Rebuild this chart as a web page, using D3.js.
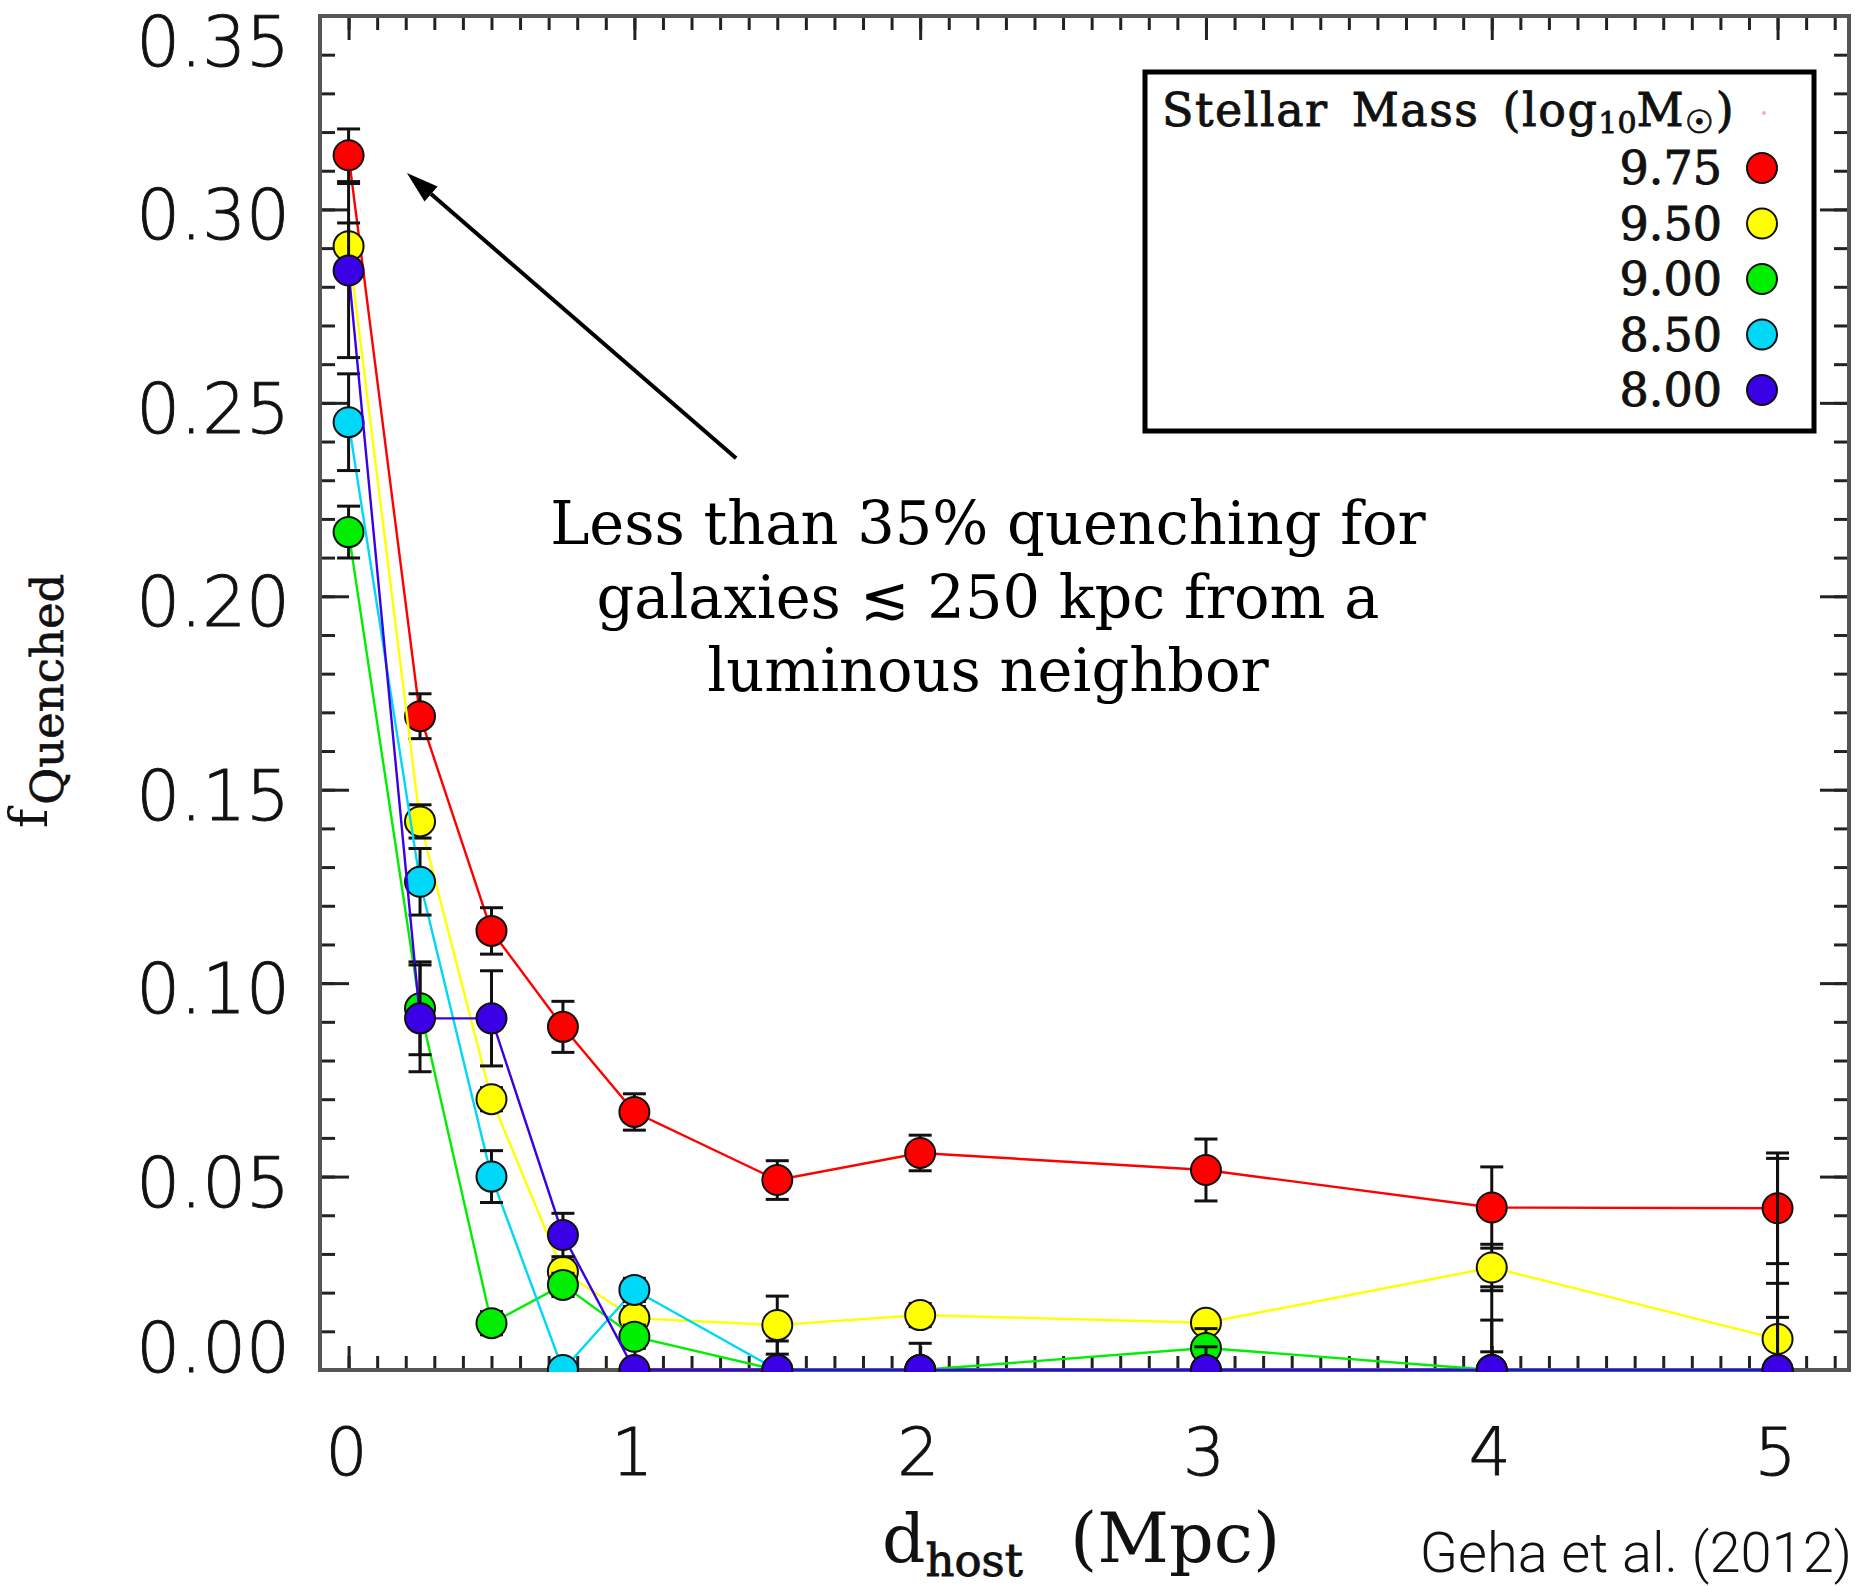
<!DOCTYPE html>
<html lang="en">
<head>
<meta charset="UTF-8">
<title>Quenched fraction vs host distance</title>
<script src="https://d3js.org/d3.v7.min.js"></script>
<style>
  body { margin: 0; background: #fff; }
  svg { display: block; }
</style>
</head>
<body>
<svg width="1855" height="1586"></svg>
<script>
// distance bins (Mpc)
const dist = [0, 0.25, 0.5, 0.75, 1, 1.5, 2, 3, 4, 5];

// quenched fraction and 1-sigma error per stellar-mass bin
const fq975 = [0.314, 0.169, 0.1135, 0.0887, 0.0667, 0.0491, 0.0561, 0.0517, 0.0420, 0.0418];
const er975 = [0.0068, 0.0058, 0.0060, 0.0066, 0.0047, 0.0050, 0.0046, 0.0080, 0.0105, 0.0143];
const fq950 = [0.2905, 0.1418, 0.0700, 0.0254, 0.0134, 0.0116, 0.0142, 0.0122, 0.0265, 0.0080];
const er950 = [0.0060, 0.0043, 0.0030, 0.0030, 0.0030, 0.0075, 0.0030, 0.0020, 0.0060, 0.0056];
const fq900 = [0.2166, 0.0935, 0.0121, 0.0220, 0.0086, 0, 0, 0.0057, 0, 0];
const er900 = [0.0067, 0.0120, 0.0030, 0.0030, 0.0030, 0, 0, 0.0050, 0.0047, 0.0224];
const fq850 = [0.2450, 0.1262, 0.0500, 0, 0.0207, 0, 0, 0, 0, 0];
const er850 = [0.0125, 0.0086, 0.0067, 0, 0.0030, 0, 0.0069, 0.0060, 0.0129, 0.0547];
const fq800 = [0.2842, 0.0909, 0.0909, 0.0349, 0, 0, 0, 0, 0, 0];
const er800 = [0.0225, 0.0138, 0.0123, 0.0056, 0, 0.0075, 0, 0, 0.0215, 0];

const massLabels = ["9.75", "9.50", "9.00", "8.50", "8.00"];
const massColors = ["#ff0000", "#ffff00", "#00ee00", "#00d8f8", "#3a00e6"];

const xTickVals = [0, 1, 2, 3, 4, 5];
const yTickVals = [0, 0.05, 0.10, 0.15, 0.20, 0.25, 0.30, 0.35];

const noteLines = ["Less than 35% quenching for", "galaxies \u2272 250 kpc from a", "luminous neighbor"];
const arrowFrom = [1.356, 0.2357];
const arrowTo = [0.204, 0.3094];

const series = [
  {vals: fq975, err: er975},
  {vals: fq950, err: er950},
  {vals: fq900, err: er900},
  {vals: fq850, err: er850},
  {vals: fq800, err: er800}
].map((s, i) => ({...s, label: massLabels[i], color: massColors[i]}));

const svg = d3.select("svg");
const L = 320, R = 1849, T = 16, B = 1370;

const x = d3.scaleLinear().domain([-0.1, 5.25]).range([L, R]);
const y = d3.scaleLinear().domain([0, 0.35]).range([B, T]);

// ticks on all four sides, pointing into the plot
const tickCol = "#222";
function ticks(axis, tf, vals, len, side) {
  const g = svg.append("g").attr("transform", tf)
    .call(axis.tickValues(vals).tickSize(len).tickFormat(""));
  g.select(".domain").remove();
  g.selectAll(".tick line").attr("stroke", tickCol).attr("stroke-width", 3)
    .each(function () {
      const el = d3.select(this);
      if (side === "top") el.attr("y2", len);
      if (side === "bottom") el.attr("y2", -len);
      if (side === "left") el.attr("x2", len);
      if (side === "right") el.attr("x2", -len);
    });
}
const xMinor = x.ticks(50);
const yMinor = y.ticks(35);
ticks(d3.axisBottom(x), `translate(0,${B})`, xMinor, 14, "bottom");
ticks(d3.axisBottom(x), `translate(0,${B})`, xTickVals, 24, "bottom");
ticks(d3.axisTop(x), `translate(0,${T})`, xMinor, 14, "top");
ticks(d3.axisTop(x), `translate(0,${T})`, xTickVals, 24, "top");
ticks(d3.axisLeft(y), `translate(${L},0)`, yMinor, 15, "left");
ticks(d3.axisLeft(y), `translate(${L},0)`, yTickVals, 29, "left");
ticks(d3.axisRight(y), `translate(${R},0)`, yMinor, 15, "right");
ticks(d3.axisRight(y), `translate(${R},0)`, yTickVals, 29, "right");

// frame
svg.append("rect")
  .attr("x", L).attr("y", T).attr("width", R - L).attr("height", B - T)
  .attr("fill", "none").attr("stroke", "#555").attr("stroke-width", 4);

// tick labels
const fmtY = d3.format(".2f");
svg.append("g").selectAll("text").data(yTickVals).join("text")
  .attr("x", 290)
  .attr("y", d => Math.max(T + 50, Math.min(B + 2, y(d) + 30)))
  .attr("text-anchor", "end")
  .attr("font-family", "DejaVu Sans").attr("font-weight", 200)
  .attr("font-size", 69).attr("fill", "#111")
  .attr("stroke", "#111").attr("stroke-width", 0.9)
  .text(fmtY);

svg.append("g").selectAll("text").data(xTickVals).join("text")
  .attr("x", d => x(d) - 2).attr("y", 1475)
  .attr("text-anchor", "middle")
  .attr("font-family", "DejaVu Sans").attr("font-weight", 200)
  .attr("font-size", 66).attr("fill", "#111")
  .attr("stroke", "#111").attr("stroke-width", 0.9)
  .text(d => d);

// axis titles
const xt = svg.append("text").attr("x", 882).attr("y", 1562)
  .attr("font-family", "DejaVu Serif").attr("fill", "#111");
xt.append("tspan").attr("font-size", 68).text("d");
xt.append("tspan").attr("font-size", 45).attr("dy", 14)
  .attr("stroke", "#111").attr("stroke-width", 0.9).text("host");
xt.append("tspan").attr("font-size", 70).attr("dy", -14).attr("x", 1070).text("(Mpc)");

const yt = svg.append("text").attr("transform", "translate(47,828) rotate(-90)")
  .attr("font-family", "DejaVu Serif").attr("fill", "#111");
yt.append("tspan").attr("font-size", 52).text("f");
yt.append("tspan").attr("font-size", 45).attr("dy", 16).attr("dx", 4)
  .attr("stroke", "#111").attr("stroke-width", 0.6).text("Quenched");

// data, clipped to the plot box
svg.append("clipPath").attr("id", "plotclip")
  .append("rect").attr("x", L).attr("y", 0).attr("width", R - L).attr("height", B + 2);
const plot = svg.append("g").attr("clip-path", "url(#plotclip)");

const line = d3.line().x(d => x(d[0])).y(d => y(d[1]));
const cap = 11.5;

series.forEach(s => {
  const g = plot.append("g");
  const pts = s.vals.map((v, i) => ({d: dist[i], v, e: s.err[i]}));
  g.append("path").datum(pts.map(p => [p.d, p.v])).attr("d", line)
    .attr("fill", "none").attr("stroke", s.color).attr("stroke-width", 2.4);

  const eb = g.append("g").attr("stroke", "#111").attr("stroke-width", 3);
  pts.filter(p => p.e > 0).forEach(p => {
    const cx = x(p.d), y0 = y(p.v - p.e), y1 = y(p.v + p.e);
    eb.append("line").attr("x1", cx).attr("x2", cx).attr("y1", y0).attr("y2", y1);
    eb.append("line").attr("x1", cx - cap).attr("x2", cx + cap).attr("y1", y0).attr("y2", y0);
    eb.append("line").attr("x1", cx - cap).attr("x2", cx + cap).attr("y1", y1).attr("y2", y1);
  });

  g.selectAll("circle").data(pts).join("circle")
    .attr("cx", p => x(p.d)).attr("cy", p => y(p.v)).attr("r", 15)
    .attr("fill", s.color).attr("stroke", "#111").attr("stroke-width", 2);
});

// legend
const lg = svg.append("g");
lg.append("rect").attr("x", 1145).attr("y", 72).attr("width", 669).attr("height", 359)
  .attr("fill", "#fff").attr("stroke", "#000").attr("stroke-width", 5);

const lt = lg.append("text").attr("x", 1162).attr("y", 126)
  .attr("font-family", "DejaVu Serif").attr("font-size", 46).attr("fill", "#111")
  .attr("letter-spacing", 1.5).attr("word-spacing", 7)
  .attr("stroke", "#111").attr("stroke-width", 0.9);
lt.append("tspan").text("Stellar Mass (log");
lt.append("tspan").attr("font-size", 30).attr("dy", 7).attr("letter-spacing", 0).text("10");
lt.append("tspan").attr("dy", -7).text("M");
lt.append("tspan").attr("font-size", 32).attr("dy", 7).text("\u2609");
lt.append("tspan").attr("dy", -7).text(")");
lg.append("circle").attr("cx", 1764).attr("cy", 113).attr("r", 2).attr("fill", "#ffb0b0");

const rowY = i => 168 + i * 55.5;
lg.selectAll("text.ent").data(series).join("text").attr("class", "ent")
  .attr("x", 1722).attr("y", (d, i) => rowY(i) + 16)
  .attr("text-anchor", "end")
  .attr("font-family", "DejaVu Serif").attr("font-size", 46).attr("fill", "#111")
  .attr("stroke", "#111").attr("stroke-width", 0.9)
  .text(d => d.label);
lg.selectAll("circle.ent").data(series).join("circle").attr("class", "ent")
  .attr("cx", 1762).attr("cy", (d, i) => rowY(i)).attr("r", 15)
  .attr("fill", d => d.color).attr("stroke", "#111").attr("stroke-width", 2);

// annotation and arrow
svg.append("g").selectAll("text").data(noteLines).join("text")
  .attr("x", 988).attr("y", (d, i) => 544 + i * 73.5)
  .attr("text-anchor", "middle")
  .attr("font-family", "DejaVu Serif").attr("font-size", 59).attr("fill", "#000")
  .text(d => d);

const ax0 = x(arrowFrom[0]), ay0 = y(arrowFrom[1]);
const ax1 = x(arrowTo[0]), ay1 = y(arrowTo[1]);
const ang = Math.atan2(ay1 - ay0, ax1 - ax0);
const hl = 32, hw = 10;
const bx = ax1 - hl * Math.cos(ang), by = ay1 - hl * Math.sin(ang);
svg.append("line").attr("x1", ax0).attr("y1", ay0).attr("x2", bx).attr("y2", by)
  .attr("stroke", "#000").attr("stroke-width", 4);
svg.append("path")
  .attr("d", `M${ax1},${ay1}L${bx + hw * Math.sin(ang)},${by - hw * Math.cos(ang)}` +
             `L${bx - hw * Math.sin(ang)},${by + hw * Math.cos(ang)}Z`)
  .attr("fill", "#000");

// citation
svg.append("text").attr("x", 1852).attr("y", 1572).attr("text-anchor", "end")
  .attr("font-family", "Roboto, 'Liberation Sans', sans-serif").attr("font-weight", 300)
  .attr("font-size", 56).attr("fill", "#111")
  .text("Geha et al. (2012)");
</script>
</body>
</html>
